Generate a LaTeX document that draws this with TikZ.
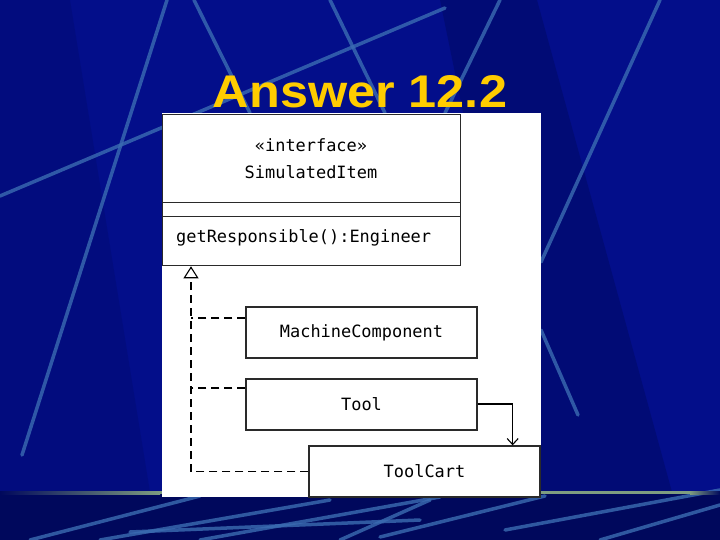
\documentclass[tikz,border=0pt]{standalone}
\usepackage{fontspec}
\setmainfont{Liberation Sans}
\setmonofont{DejaVu Sans Mono}
\usetikzlibrary{arrows.meta,positioning,calc}
\definecolor{Slide}{HTML}{030E8A}
\definecolor{SlideDark}{HTML}{00085C}
\definecolor{Streak}{HTML}{3B6CB2}
\definecolor{Gold}{HTML}{FFCC00}
\definecolor{Rule}{HTML}{7E9C80}
\definecolor{Ink}{HTML}{2A2A2A}

\begin{document}
\begin{tikzpicture}[x=1bp,y=-1bp,
  uml/.style={font=\fontsize{17}{20}\selectfont\ttfamily,text=black,inner sep=0pt},
  umlbox/.style={uml,draw=Ink,line width=1.3bp,fill=white,minimum width=231bp,minimum height=51bp},
  realize/.style={draw=black,line width=1.1bp,dash pattern=on 8bp off 5bp},
  assoc/.style={draw=black,line width=1.1bp,-{Straight Barb[length=6bp,width=11bp]}},
  streak/.style={Streak,line width=3.5bp,line cap=round,opacity=0.8}]
  \useasboundingbox (0,0) rectangle (720,540);
  % slide background
  \fill[Slide] (0,0) rectangle (720,540);
  \fill[SlideDark,opacity=0.45] (440,0) -- (537,0) -- (672,492) -- (541,492) -- cycle;
  \fill[SlideDark,opacity=0.25] (0,0) -- (70,0) -- (150,492) -- (0,492) -- cycle;
  \fill[SlideDark] (0,494) rectangle (720,540);
  \draw[streak] (167,0) -- (22,455);
  \draw[streak] (0,196) -- (445,8);
  \draw[streak] (194,0) -- (250,113);
  \draw[streak] (330,0) -- (385,113);
  \draw[streak] (500,0) -- (445,113);
  \draw[streak] (660,0) -- (541,262);
  \draw[streak] (541,330) -- (578,415);
  % bottom streaks
  \draw[streak] (30,540) -- (200,496);
  \draw[streak] (100,540) -- (330,500);
  \draw[streak] (130,532) -- (420,520);
  \draw[streak] (200,540) -- (440,497);
  \draw[streak] (340,540) -- (430,500);
  \draw[streak] (380,537) -- (545,496);
  \draw[streak] (505,530) -- (720,490);
  \draw[streak] (600,540) -- (720,505);
  \shade[left color=SlideDark,right color=Rule] (0,491) rectangle (160,494);
  \fill[Rule] (160,491) rectangle (690,494);
  \shade[left color=Rule,right color=SlideDark] (690,491) rectangle (720,494);

  % title
  \node[font=\fontsize{46}{50}\selectfont\bfseries,text=Gold,anchor=base] (title) at (360,108) {\scalebox{1.1}[1]{Answer 12.2}};

  % diagram panel
  \fill[white] (162,113) rectangle (541,497);

  \node[draw=Ink,line width=1.3bp,minimum width=298bp,minimum height=151bp,inner sep=0pt,anchor=north west] (iface) at (162,114) {};
  \draw[Ink,line width=0.8bp] ($(iface.north west)+(0,88.5)$) -- ($(iface.north east)+(0,88.5)$);
  \draw[Ink,line width=1.1bp] ($(iface.north west)+(0,102.5)$) -- ($(iface.north east)+(0,102.5)$);
  \node[uml] (stereo) at (311,145) {«interface»};
  \node[uml] (iname) at (311,172) {SimulatedItem};
  \node[uml,anchor=west] (op) at (176,238) {getResponsible():Engineer};

  \node[umlbox] (mc) at (361.5,332.5) {MachineComponent};
  \node[umlbox] (tool) at (361.5,404.5) {Tool};
  \node[umlbox] (cart) at (424.5,471.5) {ToolCart};

  % realizations
  \coordinate (hub) at ($(iface.south west)+(29,0)$);
  \coordinate (mcin) at ([yshift=14.5bp]mc.west);
  \coordinate (toolin) at ([yshift=16.5bp]tool.west);
  \draw[realize,-{Triangle[open,length=12bp,width=15bp,line width=1.1bp]}] (cart.west) -| (hub);
  \draw[realize] (mcin) -- (mcin -| hub);
  \draw[realize] (toolin) -- (toolin -| hub);

  % association
  \coordinate (drop) at ($(cart.north east)+(-28,0)$);
  \draw[assoc] ([yshift=0.5bp]tool.east) -| (drop);
\end{tikzpicture}
\end{document}
